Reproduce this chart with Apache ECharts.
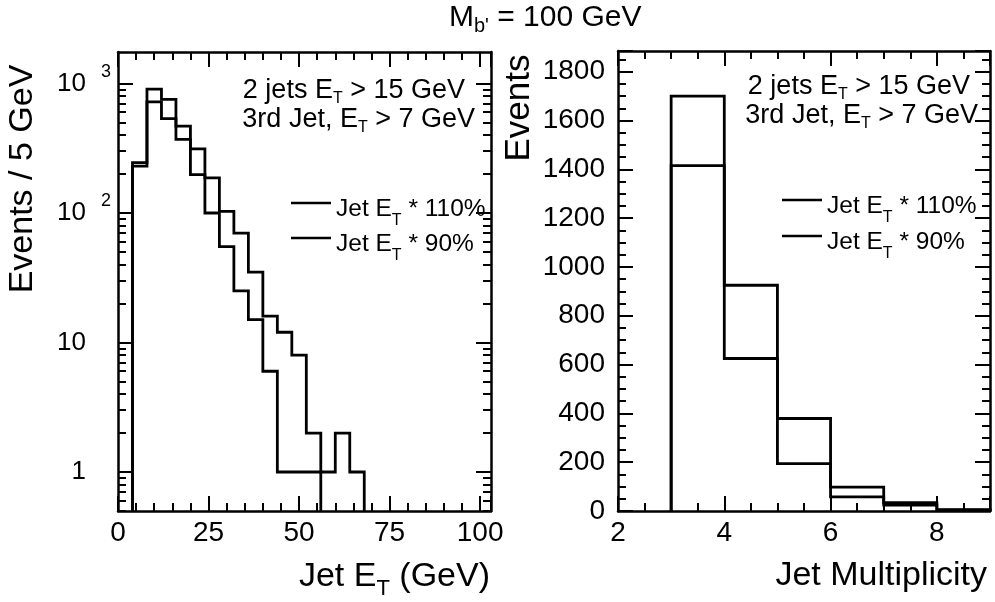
<!DOCTYPE html>
<html>
<head>
<meta charset="utf-8">
<script src="https://cdn.jsdelivr.net/npm/echarts@6/dist/echarts.min.js"></script>
<style>
  html, body { margin: 0; padding: 0; background: #fff; }
  #chart { width: 995px; height: 602px; }
</style>
</head>
<body>
<div id="chart"></div>
<script>
// ---- Jet E_T spectrum (4 GeV bins, first bin starts at 4 GeV) ----
const etEdges = [4, 8, 12, 16, 20, 24, 28, 32, 36, 40, 44, 48, 52, 56, 60, 64, 68];
const et110 = [245, 903, 755, 469, 313, 187, 103, 70, 35, 16, 12, 8, 2, 1, 2, 1];
const et90 = [230, 720, 535, 370, 198, 100, 55, 25, 15, 6, 1, 1, 1];

// ---- Jet multiplicity (unit bins starting at 3 jets) ----
const multEdges = [3, 4, 5, 6, 7, 8, 9];
const mult110 = [1700, 925, 379, 98, 34, 6];
const mult90 = [1415, 625, 194, 58, 24, 3];

// ---- tick labels ----
const etTickLabels = [0, 25, 50, 75, 100];
const logTickLabels = [1, 10, 100, 1000];
const multXTickLabels = [2, 4, 6, 8];
const multYTickLabels = [0, 200, 400, 600, 800, 1000, 1200, 1400, 1600, 1800];

const seriesNames = ['110%', '90%'];

const FONT = '"Liberation Sans", Arial, Helvetica, sans-serif';
const INK = '#000';

// axis ranges
const ET_RANGE = [0, 103];
const LOG_RANGE = [0.5, 1750];
const MX_RANGE = [2, 9];
const MY_RANGE = [0, 1885];

// Turn per-bin counts into the outline of a step histogram.
function stepOutline(edges, counts, floor) {
  const pts = [[edges[0], floor]];
  counts.forEach((c, i) => pts.push([edges[i], c > 0 ? c : floor]));
  const n = counts.length;
  pts.push([edges[n], counts[n - 1] > 0 ? counts[n - 1] : floor]);
  pts.push([edges[n], floor]);
  return pts;
}
const near = (a, b) => Math.abs(a - b) <= 1e-6 * Math.max(1, Math.abs(b));

// minor tick values of the logarithmic axis (2..9 times each decade)
const logMinorTicks = [];
for (let d = 0.1; d <= 1000; d *= 10) {
  for (let m = 1; m <= 9; m++) {
    const v = +(m * d).toPrecision(6);
    if (v >= LOG_RANGE[0] && v <= LOG_RANGE[1]) logMinorTicks.push(v);
  }
}

// Rich styles for text with a lowered subscript.
function subRich(F, f, drop, padTop) {
  const pa = padTop || 0;
  return {
    a: { fontSize: F, lineHeight: F, verticalAlign: 'top', padding: [pa, 0, 0, 0],
         fontFamily: FONT, color: INK, fontWeight: 'normal' },
    b: { fontSize: f, lineHeight: f, verticalAlign: 'top',
         padding: [pa + 0.52 * (F - f) + drop, 0, 0, 0],
         fontFamily: FONT, color: INK, fontWeight: 'normal' }
  };
}

function label(text, pos, F, f, drop) {
  return Object.assign({
    text: text, padding: 0, itemGap: 0,
    textStyle: { fontFamily: FONT, fontWeight: 'normal', color: INK, rich: subRich(F, f, drop) }
  }, pos);
}

const legendLabel = {
  '110%': '{a|Jet E}{b|T}{a| * 110%}',
  '90%': '{a|Jet E}{b|T}{a| * 90%}'
};
function legendItem(name, left, lineY) {
  const F = 24.5, f = 16, drop = 11, pa = 6;
  return {
    data: [name], left: left, top: lineY - F / 2, padding: 0, itemGap: 0,
    icon: 'rect', itemWidth: 40, itemHeight: 2.5, selectedMode: false,
    itemStyle: { color: INK },
    formatter: n => legendLabel[n],
    textStyle: { color: INK, fontFamily: FONT, rich: subRich(F, f, drop, pa) }
  };
}

const tickFont = { color: INK, fontFamily: FONT, fontSize: 28, lineHeight: 28 };

// Frame sides: a visible side carries the line and long ticks, a companion
// axis at the same place carries the short (minor) ticks.
const MAJOR = 15, MINOR = 8;
function sideAxis(base, opts) {
  const tick = { show: true, inside: true, length: opts.len, lineStyle: { color: INK, width: 2 } };
  if (opts.values) tick.customValues = opts.values;
  return Object.assign({}, base, {
    position: opts.position,
    interval: opts.interval,
    axisLine: opts.line
      ? { show: true, onZero: false, lineStyle: { color: INK, width: 2.5 } }
      : { show: false, onZero: false },
    axisTick: tick,
    minorTick: { show: false },
    splitLine: { show: false },
    axisLabel: opts.label || { show: false }
  });
}

const etX = { type: 'value', gridIndex: 0, min: ET_RANGE[0], max: ET_RANGE[1] };
const mX = { type: 'value', gridIndex: 1, min: MX_RANGE[0], max: MX_RANGE[1] };
const etY = { type: 'log', logBase: 10, gridIndex: 0, min: LOG_RANGE[0], max: LOG_RANGE[1] };
const mY = { type: 'value', gridIndex: 1, min: MY_RANGE[0], max: MY_RANGE[1] };

const etXLabel = Object.assign({ margin: 8,
  formatter: v => etTickLabels.includes(v) ? String(v) : '' }, tickFont);
const mXLabel = Object.assign({ margin: 8,
  formatter: v => multXTickLabels.includes(v) ? String(v) : '' }, tickFont);
const mYLabel = Object.assign({ margin: 13,
  formatter: v => multYTickLabels.includes(v) ? String(v) : '' }, tickFont);
const etYLabel = {
  margin: 7,
  formatter: v => {
    const t = logTickLabels.find(t => near(v, t));
    if (t === undefined) return '';
    const e = Math.round(Math.log10(t));
    return e >= 2 ? '{n|10}{s|' + e + '}' : '{m|' + t + '}';
  },
  rich: {
    m: { fontSize: 26, lineHeight: 26, padding: [0, 25, 0, 0], fontFamily: FONT, color: INK },
    n: { fontSize: 26, lineHeight: 41, verticalAlign: 'middle', fontFamily: FONT, color: INK },
    s: { fontSize: 18, lineHeight: 18, padding: [0, 0, 0, 15], verticalAlign: 'top', fontFamily: FONT, color: INK }
  }
};

function histSeries(name, xi, edges, counts, floor) {
  return {
    name: name, type: 'line', step: 'end', xAxisIndex: xi, yAxisIndex: xi,
    data: stepOutline(edges, counts, floor), showSymbol: false, symbol: 'none',
    lineStyle: { color: INK, width: 2.8, join: 'miter' }, itemStyle: { color: INK },
    clip: true, z: 3, animation: false
  };
}

const chart = echarts.init(document.getElementById('chart'), null, { renderer: 'canvas' });
chart.setOption({
  backgroundColor: '#fff',
  animation: false,
  title: [
    label('{a|M}{b|b\'}{a| = 100 GeV}', { left: 449, top: 3 }, 30, 20, 8),
    label('{a|2 jets E}{b|T}{a| > 15 GeV}', { right: 530, top: 77.5 }, 27, 16, 7),
    label('{a|3rd Jet, E}{b|T}{a| > 7 GeV}', { right: 520, top: 106.5 }, 27, 16, 7),
    label('{a|2 jets E}{b|T}{a| > 15 GeV}', { right: 25, top: 73.5 }, 27, 16, 7),
    label('{a|3rd Jet, E}{b|T}{a| > 7 GeV}', { right: 17, top: 102.5 }, 27, 16, 7),
    label('{a|Jet E}{b|T}{a| (GeV)}', { right: 505, top: 560 }, 34, 22, 12),
    label('{a|Jet Multiplicity}', { right: 8, top: 559 }, 34, 22, 12)
  ],
  legend: [
    legendItem(seriesNames[0], 291, 203),
    legendItem(seriesNames[1], 291, 238),
    legendItem(seriesNames[0], 782, 200),
    legendItem(seriesNames[1], 782, 236)
  ],
  grid: [
    { left: 118, top: 52, width: 373, height: 459, show: false, outerBoundsMode: 'none', containLabel: false },
    { left: 618, top: 51, width: 372, height: 460, show: false, outerBoundsMode: 'none', containLabel: false }
  ],
  xAxis: [
    sideAxis(etX, { position: 'bottom', interval: 25, line: true, len: MAJOR, label: etXLabel }),
    sideAxis(mX, { position: 'bottom', interval: 2, line: true, len: MAJOR, label: mXLabel }),
    sideAxis(etX, { position: 'bottom', interval: 5, len: MINOR }),
    sideAxis(mX, { position: 'bottom', interval: 0.5, len: MINOR }),
    sideAxis(etX, { position: 'top', interval: 25, line: true, len: MAJOR }),
    sideAxis(mX, { position: 'top', interval: 2, line: true, len: MAJOR }),
    sideAxis(etX, { position: 'top', interval: 5, len: MINOR }),
    sideAxis(mX, { position: 'top', interval: 0.5, len: MINOR })
  ],
  yAxis: [
    sideAxis(etY, { position: 'left', line: true, len: MAJOR, values: logTickLabels, label: etYLabel }),
    sideAxis(mY, { position: 'left', interval: 200, line: true, len: MAJOR, label: mYLabel }),
    sideAxis(etY, { position: 'left', len: MINOR, values: logMinorTicks }),
    sideAxis(mY, { position: 'left', interval: 50, len: MINOR }),
    sideAxis(etY, { position: 'right', line: true, len: MAJOR, values: logTickLabels }),
    sideAxis(mY, { position: 'right', interval: 200, line: true, len: MAJOR }),
    sideAxis(etY, { position: 'right', len: MINOR, values: logMinorTicks }),
    sideAxis(mY, { position: 'right', interval: 50, len: MINOR })
  ],
  graphic: { elements: [
    { type: 'text', x: 22.5, y: 179, rotation: Math.PI / 2,
      style: { text: 'Events / 5 GeV', font: '34px ' + FONT, fill: INK,
               align: 'center', verticalAlign: 'middle', textAlign: 'center', textVerticalAlign: 'middle' } },
    { type: 'text', x: 519.5, y: 108, rotation: Math.PI / 2,
      style: { text: 'Events', font: '35px ' + FONT, fill: INK,
               align: 'center', verticalAlign: 'middle', textAlign: 'center', textVerticalAlign: 'middle' } }
  ] },
  series: [
    histSeries(seriesNames[0], 0, etEdges, et110, LOG_RANGE[0]),
    histSeries(seriesNames[1], 0, etEdges, et90, LOG_RANGE[0]),
    histSeries(seriesNames[0], 1, multEdges, mult110, MY_RANGE[0]),
    histSeries(seriesNames[1], 1, multEdges, mult90, MY_RANGE[0])
  ]
});
</script>
</body>
</html>
